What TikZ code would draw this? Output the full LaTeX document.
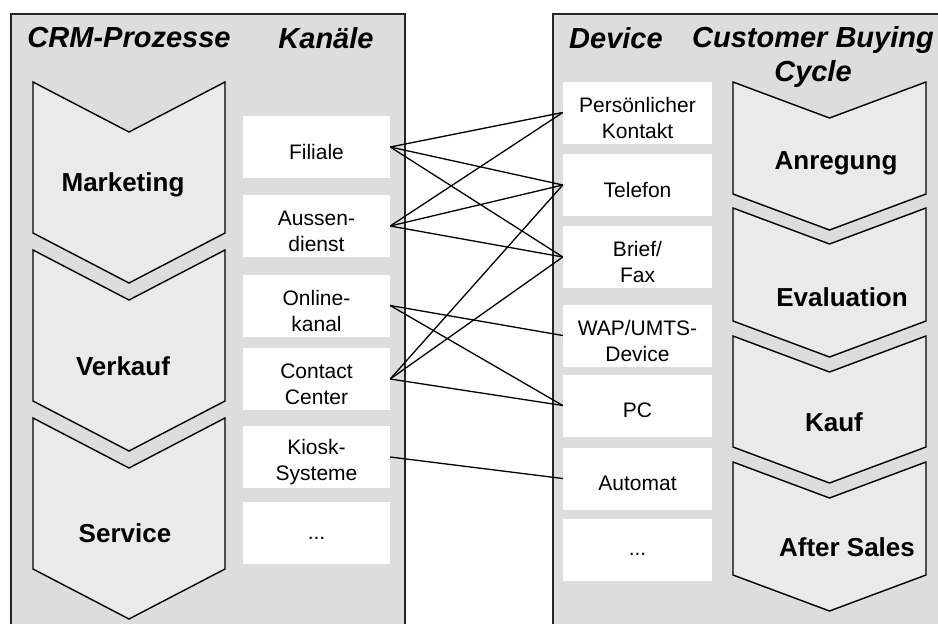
\documentclass[tikz,border=0pt]{standalone}
\usepackage{fontspec}
\setmainfont{Liberation Sans}
\usepackage{xcolor}
\definecolor{panelgray}{RGB}{221,221,221}
\definecolor{chevgray}{RGB}{234,234,234}

\begin{document}
\begin{tikzpicture}[
  x=1pt, y=-1pt,
  panel/.style={draw=black!85, line width=1.4pt, fill=panelgray},
  chev/.style={draw=black, line width=1.4pt, fill=chevgray, line join=miter},
  head/.style={font=\fontsize{29}{35}\selectfont\bfseries\itshape, align=center},
  proc/.style={font=\fontsize{26}{30}\selectfont\bfseries},
  ktext/.style={align=center, yshift=-5pt, inner sep=0pt, font=\fontsize{21}{26}\selectfont},
  kbox/.style={fill=white, minimum width=147pt, minimum height=62pt, inner sep=0pt,
               label={[ktext]center:{#1}}},
  dbox/.style={kbox={#1}, minimum width=149pt},
  con/.style={line width=1.3pt, black}
]
  \useasboundingbox (0,0) rectangle (938,624);

  % Panels
  \draw[panel] (11,14) rectangle (405,660);
  \draw[panel] (553,14) rectangle (960,660);

  % Headers
  \node[head] (crm)   at (129,38)  {CRM-Prozesse};
  \node[head] (kan)   at (326,38)  {Kan\"ale};
  \node[head] (dev)   at (616,38)  {Device};
  \node[head] (cbc)   at (813,57)  {Customer Buying\\Cycle};

  % CRM chevrons
  \draw[chev] (33,82)  -- (129,132) -- (225,82)  -- (225,233) -- (129,283) -- (33,233) -- cycle;
  \draw[chev] (33,250) -- (129,300) -- (225,250) -- (225,401) -- (129,451) -- (33,401) -- cycle;
  \draw[chev] (33,418) -- (129,468) -- (225,418) -- (225,569) -- (129,619) -- (33,569) -- cycle;
  \node[proc] (mkt) at (123,185) {Marketing};
  \node[proc] (vk)  at (123,366) {Verkauf};
  \node[proc] (svc) at (125,533) {Service};

  % Buying cycle chevrons
  \draw[chev] (733,82)  -- (829.5,118) -- (926,82)  -- (926,194) -- (829.5,230) -- (733,194) -- cycle;
  \draw[chev] (733,208) -- (829.5,244) -- (926,208) -- (926,321) -- (829.5,357) -- (733,321) -- cycle;
  \draw[chev] (733,336) -- (829.5,372) -- (926,336) -- (926,447) -- (829.5,483) -- (733,447) -- cycle;
  \draw[chev] (733,462) -- (829.5,498) -- (926,462) -- (926,575) -- (829.5,611) -- (733,575) -- cycle;
  \node[proc] (anr) at (836,163) {Anregung};
  \node[proc] (eva) at (842,297) {Evaluation};
  \node[proc] (kau) at (834,422) {Kauf};
  \node[proc] (aft) at (847,547) {After Sales};

  % Kanaele
  \node[kbox={Filiale}]          (fil)   at (316.5,147)   {};
  \node[kbox={Aussen-\\dienst}]  (aus)   at (316.5,226)   {};
  \node[kbox={Online-\\kanal}]   (onl)   at (316.5,305.5) {};
  \node[kbox={Contact\\Center}]  (cc)    at (316.5,379)   {};
  \node[kbox={Kiosk-\\Systeme}]  (kio)   at (316.5,457)   {};
  \node[kbox={...}]              (kdots) at (316.5,533)   {};

  % Devices
  \node[dbox={Pers\"onlicher\\Kontakt}] (pk)    at (637.5,112.5) {};
  \node[dbox={Telefon}]                 (tel)   at (637.5,185)   {};
  \node[dbox={Brief/\\Fax}]             (bf)    at (637.5,257)   {};
  \node[dbox={WAP/UMTS-\\Device}]       (wap)   at (637.5,335.5) {};
  \node[dbox={PC}]                      (pc)    at (637.5,405.5) {};
  \node[dbox={Automat}]                 (aut)   at (637.5,478.5) {};
  \node[dbox={...}]                     (ddots) at (637.5,549.5) {};

  % Connections
  \draw[con] (fil.east) -- (pk.west);
  \draw[con] (fil.east) -- (tel.west);
  \draw[con] (fil.east) -- (bf.west);
  \draw[con] (aus.east) -- (pk.west);
  \draw[con] (aus.east) -- (tel.west);
  \draw[con] (aus.east) -- (bf.west);
  \draw[con] (onl.east) -- (wap.west);
  \draw[con] (onl.east) -- (pc.west);
  \draw[con] (cc.east)  -- (tel.west);
  \draw[con] (cc.east)  -- (bf.west);
  \draw[con] (cc.east)  -- (pc.west);
  \draw[con] (kio.east) -- (aut.west);
\end{tikzpicture}
\end{document}
